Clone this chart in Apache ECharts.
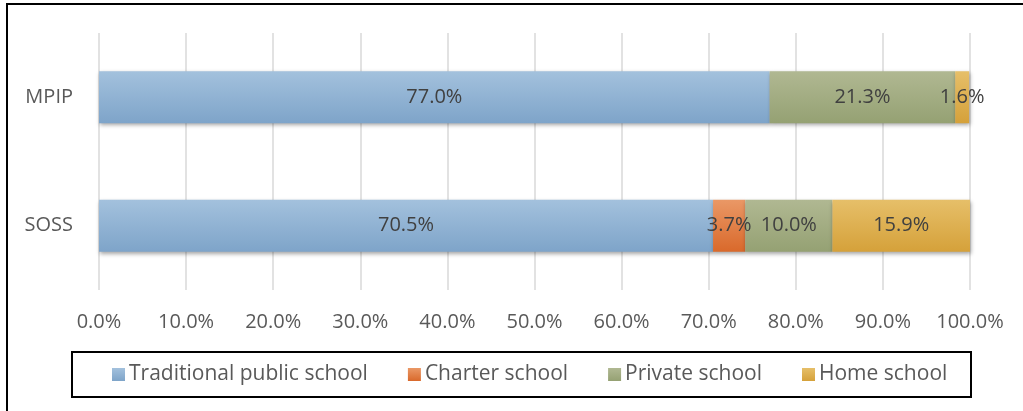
<!DOCTYPE html>
<html>
<head>
<meta charset="utf-8">
<script src="https://cdn.jsdelivr.net/npm/echarts@6/dist/echarts.min.js"></script>
<style>
  html, body { margin: 0; padding: 0; background: #ffffff; }
  #chart { width: 1023px; height: 411px; }
</style>
</head>
<body>
<div id="chart"></div>
<script>
// Survey groups (top to bottom)
const groups = ['MPIP', 'SOSS'];

// Share of students by school type, percent
const traditionalPublic = [77.0, 70.5];
const charter = [0, 3.7];
const privateSchool = [21.3, 10.0];
const homeSchool = [1.6, 15.9];

const seriesNames = ['Traditional public school', 'Charter school', 'Private school', 'Home school'];
const seriesValues = [traditionalPublic, charter, privateSchool, homeSchool];

// Gradient colours per school type: [top, bottom]
const palette = [
  ['#a3c1dd', '#7ea4c9'],
  ['#ea9866', '#d9692b'],
  ['#b0b892', '#95a173'],
  ['#e6bf69', '#d5a13a']
];

const FONT = 'Open Sans';

const chart = echarts.init(document.getElementById('chart'));

const series = seriesNames.map((name, i) => ({
  name: name,
  type: 'bar',
  stack: 'total',
  barWidth: 52,
  data: seriesValues[i],
  itemStyle: {
    color: new echarts.graphic.LinearGradient(0, 0, 0, 1, [
      { offset: 0, color: palette[i][0] },
      { offset: 1, color: palette[i][1] }
    ]),
    shadowColor: 'rgba(0,0,0,0.35)',
    shadowBlur: 4,
    shadowOffsetX: 1,
    shadowOffsetY: 2
  },
  label: {
    show: true,
    position: 'inside',
    fontFamily: FONT,
    fontSize: 20,
    color: '#404040',
    formatter: p => (p.value ? p.value.toFixed(1) + '%' : '')
  }
}));

chart.setOption({
  animation: false,
  backgroundColor: '#ffffff',
  grid: { left: 99, right: 53, top: 33, bottom: 121, containLabel: false },
  xAxis: {
    type: 'value',
    min: 0,
    max: 100,
    interval: 10,
    axisLine: { show: false },
    axisTick: { show: false },
    splitLine: { lineStyle: { color: '#d9d9d9', width: 1.5 } },
    axisLabel: {
      margin: 22,
      fontFamily: FONT,
      fontSize: 20,
      color: '#595959',
      formatter: v => v.toFixed(1) + '%'
    }
  },
  yAxis: {
    type: 'category',
    data: groups,
    inverse: true,
    axisLine: { show: false },
    axisTick: { show: false },
    axisLabel: {
      margin: 26,
      fontFamily: FONT,
      fontSize: 20,
      color: '#595959'
    }
  },
  legend: {
    data: seriesNames,
    left: 112,
    top: 364,
    padding: 0,
    itemWidth: 13,
    itemHeight: 13,
    itemGap: 40,
    icon: 'rect',
    textStyle: {
      fontFamily: FONT,
      fontSize: 21,
      color: '#595959',
      padding: [0, 0, 0, -1]
    }
  },
  graphic: [
    {
      type: 'rect',
      silent: true,
      shape: { x: 7, y: 4, width: 1040, height: 430 },
      style: { fill: 'none', stroke: '#000000', lineWidth: 2 }
    },
    {
      type: 'rect',
      silent: true,
      shape: { x: 72, y: 352, width: 899, height: 45 },
      style: { fill: 'none', stroke: '#000000', lineWidth: 2 }
    }
  ],
  series: series
});
</script>
</body>
</html>
